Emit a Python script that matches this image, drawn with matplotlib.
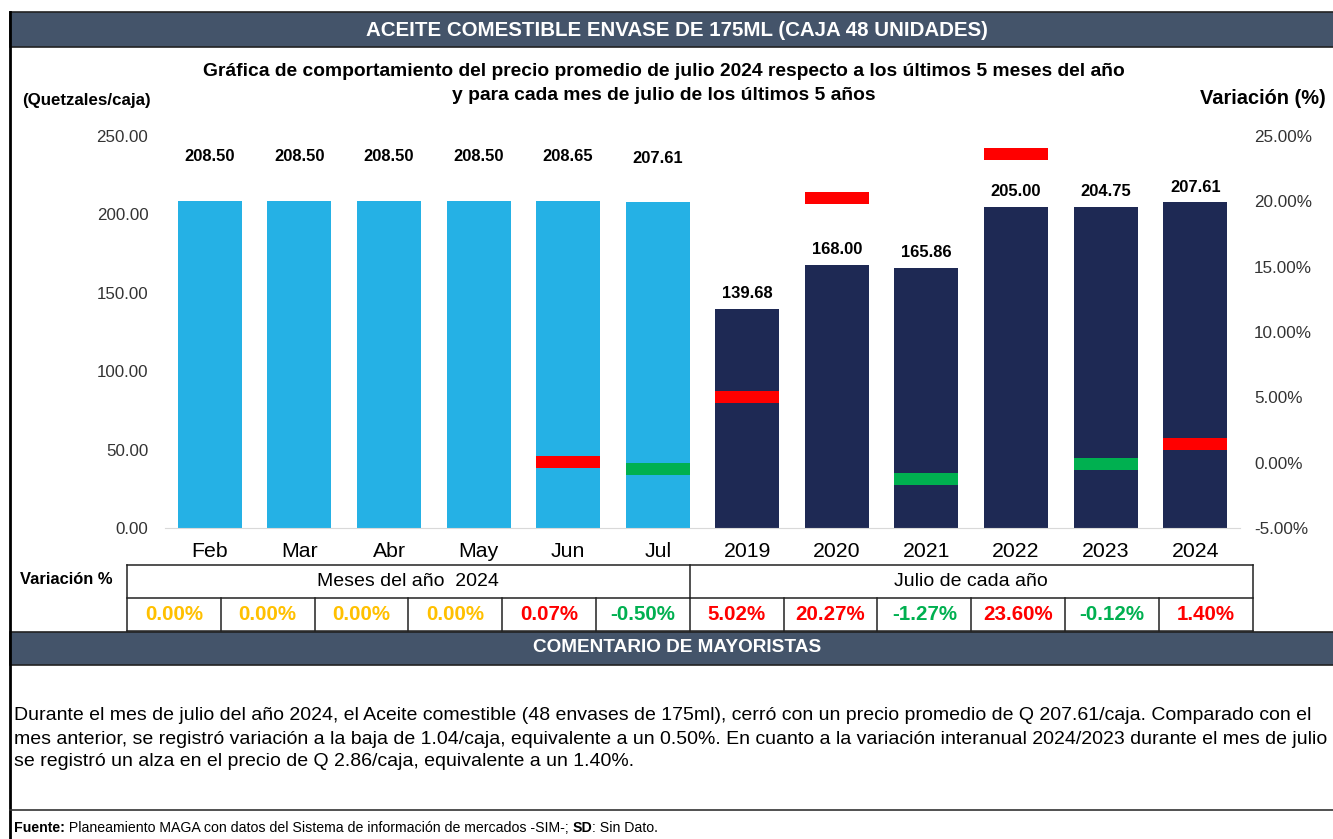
import numpy as np
import matplotlib.pyplot as plt
from matplotlib.patches import Rectangle
from matplotlib.lines import Line2D

plt.rcParams['font.family'] = ['Liberation Sans', 'DejaVu Sans']

#-------------------------------------------------------------------------------
# Data
#-------------------------------------------------------------------------------
categories = ['Feb', 'Mar', 'Abr', 'May', 'Jun', 'Jul',
              '2019', '2020', '2021', '2022', '2023', '2024']
prices     = [208.50, 208.50, 208.50, 208.50, 208.65, 207.61,
              139.68, 168.00, 165.86, 205.00, 204.75, 207.61]
variation  = [0.00, 0.00, 0.00, 0.00, 0.07, -0.50,
              5.02, 20.27, -1.27, 23.60, -0.12, 1.40]
n_months   = 6

title_main = 'ACEITE COMESTIBLE ENVASE DE 175ML (CAJA 48 UNIDADES)'
title_sub  = ['Gráfica de comportamiento del precio promedio de julio 2024 respecto a los últimos 5 meses del año',
              'y para cada mes de julio de los últimos 5 años']
group_lbls = ['Meses del año  2024', 'Julio de cada año']
comment = ['Durante el mes de julio del año 2024, el Aceite comestible (48 envases de 175ml), cerró con un precio promedio de Q 207.61/caja. Comparado con el',
           'mes anterior, se registró variación a la baja de 1.04/caja, equivalente a un 0.50%. En cuanto a la variación interanual 2024/2023 durante el mes de julio',
           'se registró un alza en el precio de Q 2.86/caja, equivalente a un 1.40%.']
# footer pieces: (text, bold)
footer = [('Fuente:', True),
          (' Planeamiento MAGA con datos del Sistema de información de mercados -SIM-; ', False),
          ('SD', True),
          (': Sin Dato.', False)]

#-------------------------------------------------------------------------------
# Colors
#-------------------------------------------------------------------------------
c_month = '#25B1E5'
c_year  = '#1E2954'
c_head  = '#44546A'
c_up    = '#FF0000'
c_down  = '#00B050'
c_zero  = '#FFC000'

def var_color(v):
    if v > 0:
        return c_up
    if v < 0:
        return c_down
    return c_zero

#-------------------------------------------------------------------------------
# Figure and pixel-space background layer
#-------------------------------------------------------------------------------
W, H = 1333, 839
fig = plt.figure(figsize=(W/100, H/100), dpi=100)
bg = fig.add_axes([0, 0, 1, 1])
bg.set_xlim(0, W)
bg.set_ylim(H, 0)
bg.axis('off')

# header bars
bg.add_patch(Rectangle((10, 12), W, 35, facecolor=c_head, edgecolor='#222222', lw=1.2))
bg.text(677, 31, title_main, color='white', fontsize=14.8, fontweight='bold', ha='center', va='center')
bg.add_patch(Rectangle((10, 632), W, 33, facecolor=c_head, edgecolor='#222222', lw=1.2))
bg.text(677, 648, 'COMENTARIO DE MAYORISTAS', color='white', fontsize=13.7, fontweight='bold', ha='center', va='center')

# outer border
bg.add_line(Line2D([10, 10], [12, H], color='black', lw=2))

# chart titles
for yy, line in zip([71, 96], title_sub):
    bg.text(664, yy, line, fontsize=13.9, fontweight='bold', ha='center', va='center')
bg.text(22, 101, '(Quetzales/caja)', fontsize=12.2, fontweight='bold', ha='left', va='center')
bg.text(1326, 98, 'Variación (%)', fontsize=14.4, fontweight='bold', ha='right', va='center')

#-------------------------------------------------------------------------------
# Variation table
#-------------------------------------------------------------------------------
t_left, cell_w = 127, 93.8
t_top, t_mid, t_bot = 565, 598, 631
t_right = t_left + cell_w*len(categories)
t_split = t_left + cell_w*n_months
lk = dict(color='#222222', lw=1.1)
bg.add_line(Line2D([t_left, t_right], [t_top, t_top], **lk))
bg.add_line(Line2D([t_left, t_right], [t_mid, t_mid], **lk))
bg.add_line(Line2D([t_left, t_right], [t_bot, t_bot], **lk))
bg.add_line(Line2D([t_left, t_left], [t_top, t_bot], **lk))
bg.add_line(Line2D([t_right, t_right], [t_top, t_bot], **lk))
bg.add_line(Line2D([t_split, t_split], [t_top, t_mid], **lk))
for i in range(1, len(categories)):
    xl = t_left + cell_w*i
    bg.add_line(Line2D([xl, xl], [t_mid, t_bot], **lk))
bg.text(66, 580, 'Variación %', fontsize=11.9, fontweight='bold', ha='center', va='center')
bg.text((t_left+t_split)/2, 581, group_lbls[0], fontsize=14, ha='center', va='center')
bg.text((t_split+t_right)/2, 581, group_lbls[1], fontsize=14, ha='center', va='center')
for i, v in enumerate(variation):
    bg.text(t_left + cell_w*(i+0.5), 615, f'{v:.2f}%', color=var_color(v),
            fontsize=14.8, fontweight='bold', ha='center', va='center')

# comment and footer
for yy, line in zip([716, 739, 762], comment):
    bg.text(14, yy, line, fontsize=14.0, ha='left', va='center')
bg.add_line(Line2D([10, W], [810, 810], color='#333333', lw=1.2))
prev = bg.text(14, 828, footer[0][0], fontsize=10.2, fontweight='bold', ha='left', va='center')
for txt, bold in footer[1:]:
    prev = bg.annotate(txt, xy=(1, 0.5), xycoords=prev, ha='left', va='center',
                       fontsize=10.2, fontweight='bold' if bold else 'normal')

#-------------------------------------------------------------------------------
# Bar chart
#-------------------------------------------------------------------------------
ax_l, ax_r, ax_t, ax_b = 165, 1240, 136, 528
ax = fig.add_axes([ax_l/W, 1-ax_b/H, (ax_r-ax_l)/W, (ax_b-ax_t)/H])
ax.patch.set_alpha(0)
x = np.arange(len(categories))
colors = [c_month]*n_months + [c_year]*(len(categories)-n_months)
ax.bar(x, prices, width=0.715, color=colors, zorder=2)
ax.set_xlim(-0.5, len(categories)-0.5)
ax.set_ylim(0, 250)
ax.set_yticks(np.arange(0, 251, 50))
ax.set_yticklabels([f'{t:.2f}' for t in np.arange(0, 251, 50)])
ax.set_xticks(x)
ax.set_xticklabels(categories)
ax.tick_params(axis='y', length=0, pad=12, labelsize=12.2, labelcolor='#333333')
ax.tick_params(axis='x', length=0, pad=10, labelsize=15.3)
for s in ['top', 'right', 'left']:
    ax.spines[s].set_visible(False)
ax.spines['bottom'].set_color('#D9D9D9')

for i, p in enumerate(prices):
    off = 32 if i < n_months else 11
    ax.annotate(f'{p:.2f}', (x[i], p), xytext=(0, off), textcoords='offset points',
                ha='center', va='center', fontsize=11.9, fontweight='bold')

# variation markers on the secondary axis
ax2 = ax.twinx()
ax2.set_ylim(-5, 25)
ax2.set_yticks(np.arange(-5, 26, 5))
ax2.set_yticklabels([f'{t:.2f}%' for t in np.arange(-5, 26, 5)])
ax2.tick_params(axis='y', length=0, pad=10, labelsize=12.3, labelcolor='#333333')
for s in ax2.spines.values():
    s.set_visible(False)
for i, v in enumerate(variation):
    if v == 0:
        continue
    ax2.bar(x[i], 0.9, bottom=v-0.45, width=0.715, color=var_color(v), zorder=3)

fig.savefig('out.png', dpi=100)
